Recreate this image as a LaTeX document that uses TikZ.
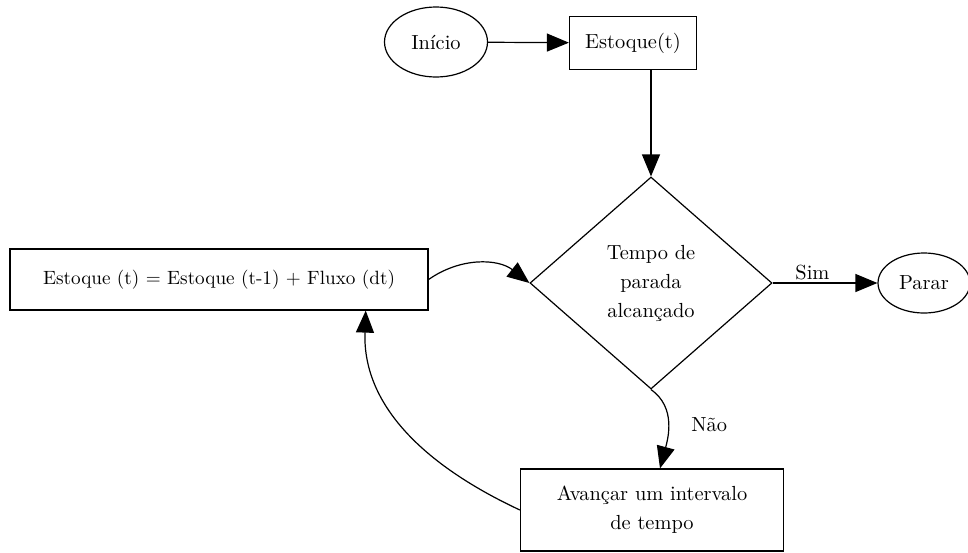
\documentclass[tikz,border=0pt]{standalone}
\usetikzlibrary{shapes.geometric, arrows.meta, calc}

\begin{document}
\begin{tikzpicture}[x=0.5pt, y=-0.5pt,
    every node/.style = {font=\fontsize{10.2}{14.5}\selectfont},
    term/.style = {draw, ellipse, inner sep=0pt},
    proc/.style = {draw, rectangle, inner sep=0pt, align=center},
    cond/.style = {draw, diamond, inner sep=0pt, align=center},
    flow/.style = {-{Triangle[length=11pt, width=9pt]}, line width=0.6pt},
    line width=0.6pt]
    \useasboundingbox (0,0) rectangle (968,552);
    \node[term, minimum width=51.5pt, minimum height=35pt] (inicio) at (436,42) {Início};
    \node[proc, minimum width=63.5pt, minimum height=26.5pt] (estoque) at (633,43) {Estoque(t)};
    \node[cond, minimum width=121pt, minimum height=106pt] (parada) at (651,283) {Tempo de\\parada\\alcançado};
    \node[term, minimum width=46pt, minimum height=30pt] (parar) at (924,283) {Parar};
    \node[proc, minimum width=209pt, minimum height=30.5pt, font=\fontsize{9.6}{12}\selectfont] (calculo) at (219,279.5) {Estoque (t) = Estoque (t-1) + Fluxo (dt)};
    \node[proc, minimum width=131.5pt, minimum height=41pt] (avancar) at (652,510) {Avançar um intervalo\\de tempo};
    \draw[flow] (inicio) -- (estoque);
    \draw[flow] (estoque.south -| parada.north) -- (parada.north);
    \draw[flow] (parada.east) -- node[pos=0.38, above=-2pt] {Sim} (parar.west);
    \draw[flow] (calculo.east) to[out=35, in=142] (parada.west);
    \draw[flow] (parada.south) to[out=-35, in=75] node[pos=0.5, right=8pt] {Não} ([xshift=4pt]avancar.north);
    \draw[flow] (avancar.west) to[out=155, in=-92] ($(calculo.south west)!0.85!(calculo.south east)$);
\end{tikzpicture}
\end{document}
